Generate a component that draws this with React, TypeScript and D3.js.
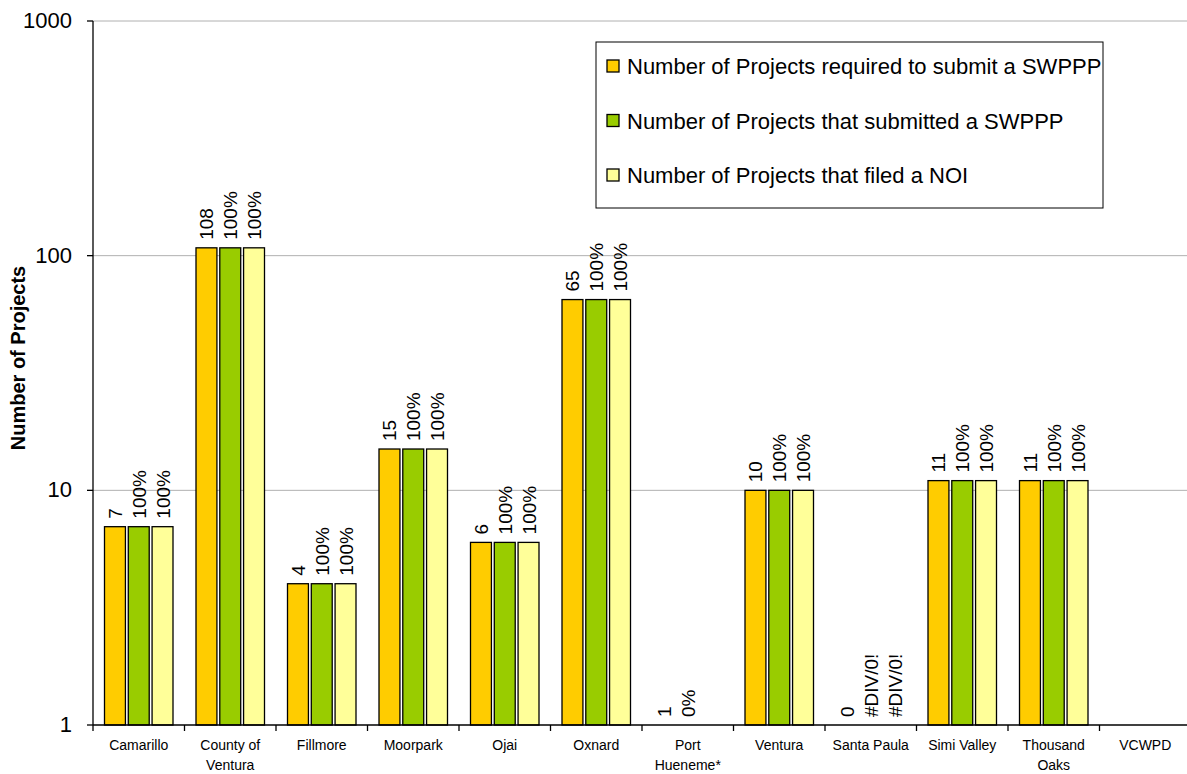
import React from "react";
import * as d3 from "d3";

const categories = [
  "Camarillo", "County of|Ventura", "Fillmore", "Moorpark", "Ojai", "Oxnard",
  "Port|Hueneme*", "Ventura", "Santa Paula", "Simi Valley", "Thousand|Oaks", "VCWPD",
];
const required = [7, 108, 4, 15, 6, 65, 1, 10, 0, 11, 11, null];
const submitted = [7, 108, 4, 15, 6, 65, 0, 10, 0, 11, 11, null];
const filedNoi = [7, 108, 4, 15, 6, 65, 0, 10, 0, 11, 11, null];
const requiredLabels = ["7", "108", "4", "15", "6", "65", "1", "10", "0", "11", "11", ""];
const submittedLabels = ["100%", "100%", "100%", "100%", "100%", "100%", "0%", "100%", "#DIV/0!", "100%", "100%", ""];
const noiLabels = ["100%", "100%", "100%", "100%", "100%", "100%", "", "100%", "#DIV/0!", "100%", "100%", ""];
const seriesNames = [
  "Number of Projects required to submit a SWPPP",
  "Number of Projects that submitted a SWPPP",
  "Number of Projects that filed a NOI",
];
const yTicks = [1, 10, 100, 1000];

const colors = ["#FFCC00", "#99CC00", "#FFFF99"];
const font = "Arial, 'Liberation Sans', sans-serif";

const left = 93;
const right = 1191;
const top = 21;
const bottom = 725;

export default function App() {
  const series = [required, submitted, filedNoi];
  const labels = [requiredLabels, submittedLabels, noiLabels];

  const x = d3.scaleBand<string>().domain(categories).range([left, right]);
  const inner = d3
    .scaleBand<number>()
    .domain([0, 1, 2])
    .range([11.5, x.bandwidth() - 11.5])
    .paddingInner(0.12);
  const y = d3.scaleLog().domain([1, 1000]).range([bottom, top]);

  return (
    <svg width={1187} height={774} style={{ position: "absolute", left: 0, top: 0 }} fontFamily={font}>
      <rect width={1187} height={774} fill="#fff" />
      {/* gridlines */}
      {yTicks.slice(1).map((t) => (
        <line key={t} x1={left} x2={right} y1={y(t)} y2={y(t)} stroke="#b0b0b0" strokeWidth={1} />
      ))}
      {/* bars */}
      {categories.map((c, i) =>
        series.map((s, j) => {
          const v = s[i];
          const bx = (x(c) ?? 0) + (inner(j) ?? 0);
          const w = inner.bandwidth();
          const lab = labels[j][i];
          const vy = v == null ? bottom : y(Math.max(v, 1));
          return (
            <g key={c + j}>
              {v != null && v >= 1 && vy < bottom && (
                <rect x={bx} y={vy} width={w} height={bottom - vy} fill={colors[j]} stroke="#000" strokeWidth={1.3} />
              )}
              {lab && (
                <text
                  transform={`translate(${bx + w / 2 + 7},${vy - 8}) rotate(-90)`}
                  fontSize={19}
                  fill="#000"
                >
                  {lab}
                </text>
              )}
            </g>
          );
        })
      )}
      {/* axes */}
      <line x1={left} x2={left} y1={top} y2={bottom} stroke="#000" strokeWidth={1.3} />
      <line x1={left} x2={right} y1={bottom} y2={bottom} stroke="#000" strokeWidth={1.3} />
      {yTicks.map((t) => (
        <g key={t}>
          <line x1={left - 6} x2={left} y1={y(t)} y2={y(t)} stroke="#000" strokeWidth={1.3} />
          <text x={left - 21} y={y(t) + 7} textAnchor="end" fontSize={22}>
            {t}
          </text>
        </g>
      ))}
      {categories.map((c) => (
        <g key={c}>
          <line x1={x(c)} x2={x(c)} y1={bottom} y2={bottom + 6} stroke="#000" strokeWidth={1.3} />
          {c.split("|").map((part, k) => (
            <text key={k} x={(x(c) ?? 0) + x.bandwidth() / 2} y={bottom + 25 + k * 20} textAnchor="middle" fontSize={14}>
              {part}
            </text>
          ))}
        </g>
      ))}
      <text transform={`translate(25,358) rotate(-90)`} textAnchor="middle" fontSize={20} fontWeight="bold">
        Number of Projects
      </text>
      {/* legend */}
      <rect x={596} y={42} width={507} height={166} fill="#fff" stroke="#000" strokeWidth={1} />
      {seriesNames.map((n, j) => (
        <g key={n}>
          <rect x={607} y={60 + j * 54.5} width={12} height={12} fill={colors[j]} stroke="#000" strokeWidth={1.3} />
          <text x={627} y={74 + j * 54.5} fontSize={22}>
            {n}
          </text>
        </g>
      ))}
    </svg>
  );
}
